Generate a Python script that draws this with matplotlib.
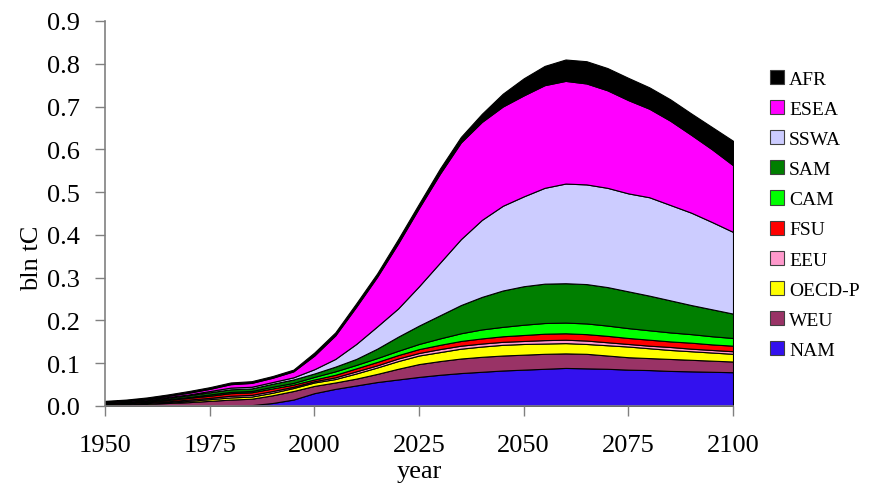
import matplotlib
matplotlib.use("Agg")
import matplotlib.pyplot as plt
from matplotlib.patches import Patch
from matplotlib.ticker import FormatStrFormatter, MultipleLocator

years = [1950, 1955, 1960, 1965, 1970, 1975, 1980, 1985, 1990, 1995,
         2000, 2005, 2010, 2015, 2020, 2025, 2030, 2035, 2040, 2045,
         2050, 2055, 2060, 2065, 2070, 2075, 2080, 2085, 2090, 2095, 2100]

NAM = [0, 0, 0, 0, 0, 0, 0, .002, .007, .015,
       .030, .040, .048, .056, .062, .068, .073, .077, .080, .083,
       .085, .087, .089, .088, .087, .085, .084, .082, .081, .080, .079]
WEU = [.003, .004, .005, .007, .009, .012, .015, .015, .018, .020,
       .017, .015, .016, .019, .025, .030, .032, .034, .035, .035,
       .035, .035, .034, .034, .031, .029, .028, .028, .027, .026, .025]
OECD_P = [.001, .001, .002, .002, .003, .004, .005, .005, .006, .007,
          .008, .008, .012, .015, .018, .020, .021, .023, .024, .025,
          .025, .024, .024, .023, .024, .025, .023, .021, .020, .019, .018]
EEU = [.001, .001, .002, .002, .003, .003, .004, .004, .004, .003,
       .003, .004, .005, .005, .006, .006, .007, .007, .007, .007,
       .007, .008, .008, .008, .007, .006, .006, .007, .006, .006, .006]
FSU = [.001, .002, .002, .003, .004, .005, .006, .006, .006, .005,
       .004, .006, .007, .008, .008, .009, .010, .011, .012, .013,
       .014, .015, .015, .015, .015, .014, .014, .013, .014, .013, .013]
CAM = [.001, .001, .001, .002, .002, .003, .003, .003, .004, .004,
       .006, .008, .008, .009, .010, .012, .015, .018, .021, .022,
       .024, .025, .025, .025, .024, .023, .022, .021, .020, .019, .018]
SAM = [.001, .001, .002, .003, .004, .005, .006, .006, .007, .008,
       .008, .011, .014, .022, .033, .043, .054, .066, .076, .085,
       .090, .092, .092, .092, .090, .086, .081, .075, .068, .063, .057]
SSWA = [.001, .001, .001, .002, .002, .003, .004, .004, .004, .005,
        .010, .018, .035, .052, .066, .092, .123, .154, .180, .198,
        .210, .224, .233, .233, .232, .229, .230, .223, .216, .204, .191]
ESEA = [.001, .002, .002, .003, .004, .005, .008, .009, .010, .014,
        .032, .055, .087, .116, .152, .183, .208, .226, .229, .232,
        .236, .240, .240, .236, .228, .218, .207, .197, .182, .170, .156]
AFR = [.002, .002, .003, .003, .004, .004, .004, .004, .004, .004,
       .007, .007, .008, .008, .010, .010, .012, .013, .019, .030,
       .040, .045, .050, .052, .052, .052, .050, .050, .050, .052, .057]

labels = ["NAM", "WEU", "OECD-P", "EEU", "FSU", "CAM", "SAM", "SSWA", "ESEA", "AFR"]
colors = ["#3311EE", "#993366", "#FFFF00", "#FF99CC", "#FF0000",
          "#00FF00", "#007F00", "#CCCCFF", "#FF00FF", "#000000"]
series = [NAM, WEU, OECD_P, EEU, FSU, CAM, SAM, SSWA, ESEA, AFR]

plt.rcParams['font.family'] = ['Liberation Serif', 'DejaVu Serif']

fig = plt.figure(figsize=(8.69, 4.89), dpi=100)
ax = fig.add_axes([105/869, 1-407/489, (733-105)/869, (407-22)/489])

ax.stackplot(years, *series, colors=colors, edgecolor="black", linewidth=0.8)

ax.set_xlim(1950, 2100)
ax.set_ylim(0, 0.9)
ax.xaxis.set_major_locator(MultipleLocator(25))
ax.yaxis.set_major_locator(MultipleLocator(0.1))
ax.yaxis.set_major_formatter(FormatStrFormatter("%.1f"))
for s in ["top", "right"]:
    ax.spines[s].set_visible(False)
for s in ["left", "bottom"]:
    ax.spines[s].set_color("#808080")
    ax.spines[s].set_linewidth(1.2)
ax.tick_params(axis="both", direction="out", length=7, width=1.0,
               color="#808080", labelsize=19)
ax.tick_params(axis="x", pad=13)
ax.tick_params(axis="y", pad=11)
ax.set_xlabel("year", fontsize=19, labelpad=3)
ax.set_ylabel("bln tC", fontsize=19)
ax.yaxis.set_label_coords(-0.098, 0.387)

handles = [Patch(facecolor=c, edgecolor="#404040", linewidth=0.8) for c in colors]
fig.legend(handles[::-1], labels[::-1], loc="upper left",
           bbox_to_anchor=(762/869, 1-63/489), frameon=False,
           fontsize=14, handlelength=0.75, handleheight=0.75,
           handletextpad=0.25, labelspacing=0.63, borderaxespad=0)

fig.savefig("out.png", dpi=100)
